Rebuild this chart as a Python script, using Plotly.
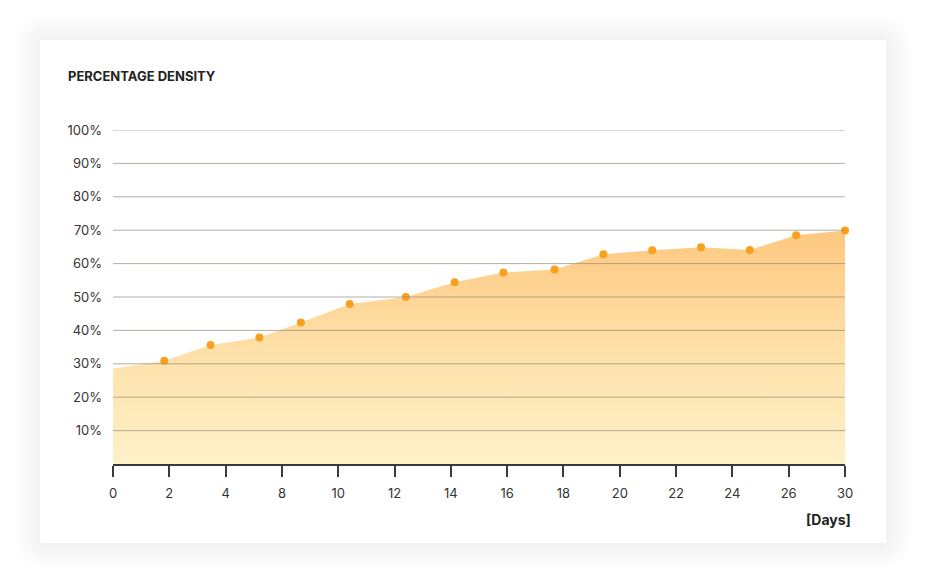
import numpy as np
import plotly.graph_objects as go

# data
days = [0, 2.1, 4.0, 6.0, 7.7, 9.7, 12.0, 14.0, 16.0, 18.1, 20.1,
        22.1, 24.1, 26.1, 28.0, 30]
density = [28.6, 30.9, 35.6, 37.9, 42.4, 47.9, 50.0, 54.4, 57.3, 58.2,
           62.8, 64.0, 64.9, 64.1, 68.5, 69.9]
x_tick_text = ["0", "2", "4", "8", "10", "12", "14", "16", "18", "20",
               "22", "24", "26", "30"]
y_tick_vals = [10, 20, 30, 40, 50, 60, 70, 80, 90, 100]

# the page puts the plot 8px in from the top left corner
OFF = 8
W, H = 926 - OFF, 583 - OFF
ML, MT = 113 - OFF, 130 - OFF
MR, MB = W - (845 - OFF), H - (464 - OFF)
PW, PH = W - ML - MR, H - MT - MB


def px_x(p):
    return (p - OFF - ML) / PW


def px_y(p):
    return 1 - (p - OFF - MT) / PH


def rounded_rect(x0, y0, x1, y1, r):
    """svg path (paper coords) of a rounded rectangle given in pixels"""
    rx, ry = r / PW, r / PH
    a, b, c, d = px_x(x0), px_y(y0), px_x(x1), px_y(y1)
    return (f"M {a + rx},{b} L {c - rx},{b} Q {c},{b} {c},{b - ry} "
            f"L {c},{d + ry} Q {c},{d} {c - rx},{d} "
            f"L {a + rx},{d} Q {a},{d} {a},{d + ry} "
            f"L {a},{b - ry} Q {a},{b} {a + rx},{b} Z")


shapes = []

# soft shadow around the card
for off in range(26, 0, -2):
    shapes.append(dict(type="path", xref="paper", yref="paper", layer="below",
                       path=rounded_rect(40 - off, 40 - off, 886 + off, 543 + off, 8 + off),
                       fillcolor="rgba(0,0,0,0.0055)", line=dict(width=0)))
# card
shapes.append(dict(type="rect", xref="paper", yref="paper", layer="below",
                   x0=px_x(40), x1=px_x(886), y0=px_y(543), y1=px_y(40),
                   fillcolor="white", line=dict(width=0)))

# grid lines drawn over the fill
for v in y_tick_vals:
    shapes.append(dict(type="line", xref="paper", yref="y", layer="above",
                       x0=0, x1=1, y0=v, y1=v,
                       line=dict(color="rgba(150,138,124,0.7)", width=1)))

fig = go.Figure()

fig.add_trace(go.Scatter(x=days,
                         y=density,
                         mode="lines",
                         line=dict(width=0, color="rgba(0,0,0,0)"),
                         fill="tozeroy",
                         fillgradient=dict(type="vertical",
                                           colorscale=[[0, "rgb(254,241,200)"],
                                                       [0.5, "rgb(254,224,168)"],
                                                       [1, "rgb(253,200,128)"]]),
                         hoverinfo="skip",
                         showlegend=False))

fig.add_trace(go.Scatter(x=days[1:],
                         y=density[1:],
                         mode="markers",
                         marker=dict(size=8, color="#f9a11e"),
                         cliponaxis=False,
                         showlegend=False))

fig.update_xaxes(range=[0, 30],
                 tickvals=list(np.linspace(0, 30, len(x_tick_text))),
                 ticktext=x_tick_text,
                 showgrid=False,
                 zeroline=False,
                 showline=True,
                 linecolor="#3a3a3a",
                 linewidth=1.5,
                 ticks="outside",
                 ticklen=11,
                 tickwidth=1.5,
                 tickcolor="#3a3a3a",
                 ticklabelstandoff=6,
                 tickfont=dict(family="Inter", size=13, color="#333333"))

fig.update_yaxes(range=[0, 100],
                 tickvals=y_tick_vals,
                 ticktext=[f"{v}%" for v in y_tick_vals],
                 showgrid=False,
                 zeroline=False,
                 showline=False,
                 ticklabelstandoff=10,
                 tickfont=dict(family="Inter", size=13, color="#333333"))

fig.update_layout(width=W,
                  height=H,
                  margin=dict(l=ML, r=MR, t=MT, b=MB),
                  paper_bgcolor="white",
                  plot_bgcolor="rgba(0,0,0,0)",
                  shapes=shapes,
                  annotations=[
                      dict(text="<b>PERCENTAGE DENSITY</b>", xref="paper", yref="paper",
                           x=px_x(66), y=px_y(76), xanchor="left", yanchor="middle",
                           showarrow=False,
                           font=dict(family="Inter", size=13, color="#222222")),
                      dict(text="<b>[Days]</b>", xref="paper", yref="paper",
                           x=px_x(853), y=px_y(519), xanchor="right", yanchor="middle",
                           showarrow=False,
                           font=dict(family="Inter", size=14, color="#222222")),
                  ])

fig.write_html("out.html")
